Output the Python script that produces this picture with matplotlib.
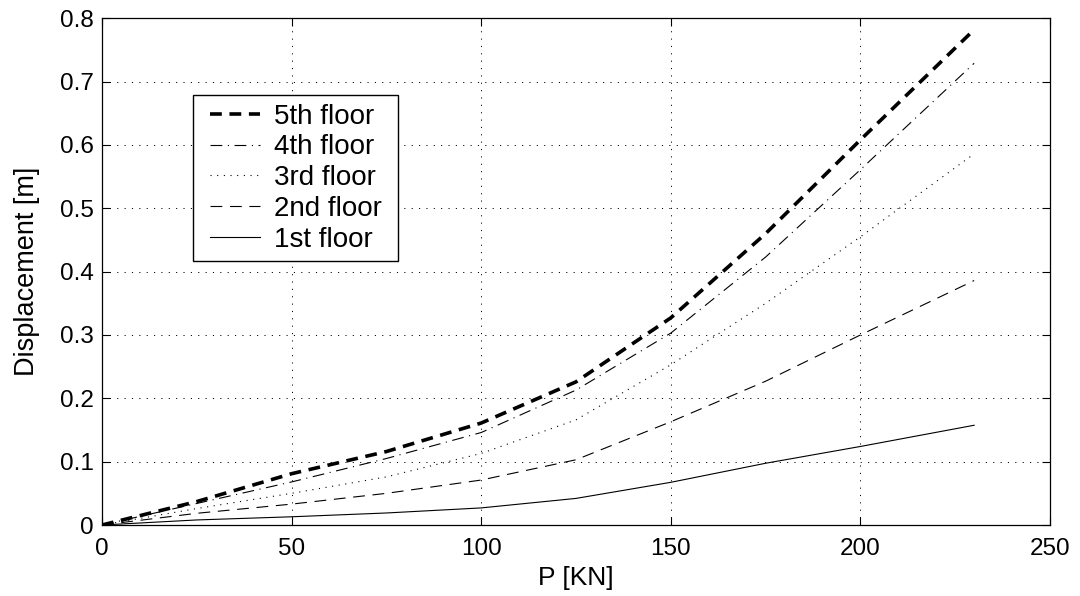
import matplotlib
matplotlib.use("Agg")
import matplotlib.pyplot as plt
from matplotlib.patches import Rectangle
from matplotlib.transforms import IdentityTransform

plt.rcParams['font.family'] = ['Liberation Sans', 'DejaVu Sans']
plt.rcParams['lines.scale_dashes'] = False

# load P [KN]
P = [0, 25, 50, 75, 100, 125, 150, 175, 200, 230]

# floor displacements [m]
floor5 = [0, 0.037, 0.081, 0.116, 0.161, 0.226, 0.327, 0.460, 0.608, 0.782]
floor4 = [0, 0.034, 0.068, 0.105, 0.146, 0.213, 0.303, 0.423, 0.561, 0.729]
floor3 = [0, 0.026, 0.050, 0.076, 0.113, 0.166, 0.253, 0.350, 0.455, 0.586]
floor2 = [0, 0.0185, 0.033, 0.050, 0.071, 0.103, 0.163, 0.227, 0.300, 0.386]
floor1 = [0, 0.008, 0.013, 0.019, 0.027, 0.042, 0.0674, 0.0975, 0.124, 0.1575]

labels = ['5th floor', '4th floor', '3rd floor', '2nd floor', '1st floor']

fig = plt.figure(figsize=(10.8, 5.96), dpi=100)
ax = fig.add_axes([0.0944, 0.1191, 0.8778, 0.8502])

ax.plot(P, floor5, color='black', lw=2.6, dashes=(8.5, 5.5), label=labels[0])
ax.plot(P, floor4, color='black', lw=0.8, dashes=(8.5, 4, 0.8, 4), label=labels[1])
ax.plot(P, floor3, color='black', lw=0.8, dashes=(0.8, 4), label=labels[2])
ax.plot(P, floor2, color='black', lw=0.8, dashes=(8.5, 5.5), label=labels[3])
ax.plot(P, floor1, color='black', lw=0.8, label=labels[4])

ax.set_xlim(0, 250)
ax.set_ylim(0, 0.8)
ax.set_xticks([0, 50, 100, 150, 200, 250])
ax.set_yticks([0, 0.1, 0.2, 0.3, 0.4, 0.5, 0.6, 0.7, 0.8])
ax.set_yticklabels(['0', '0.1', '0.2', '0.3', '0.4', '0.5', '0.6', '0.7', '0.8'])

ax.grid(True, color='black', lw=0.7, linestyle=(0, (0.8, 4.5)))
ax.tick_params(direction='in', length=6, width=0.8, top=True, right=True,
               labelsize=17.5)
ax.tick_params(axis='x', pad=9)
ax.tick_params(axis='y', pad=6)
for s in ax.spines.values():
    s.set_linewidth(0.9)

ax.set_xlabel('P [KN]', fontsize=19, labelpad=5)
ax.set_ylabel('Displacement [m]', fontsize=19.5, labelpad=14)

# legend without its own frame; a wider box is drawn round it below
leg = ax.legend(loc='upper left', bbox_to_anchor=(0.1044, 0.849), borderaxespad=0,
                frameon=False, fontsize=20,
                handlelength=1.8, labelspacing=0.17, borderpad=0.32, handletextpad=0.5)

fig.canvas.draw()
bb = leg.get_window_extent()
pad = 8
box = Rectangle((bb.x0 - pad, bb.y0), bb.width + 2 * pad, bb.height,
                transform=IdentityTransform(), facecolor='white', edgecolor='black',
                lw=1.0, zorder=4.9, clip_on=False)
ax.add_patch(box)

fig.savefig('out.png', dpi=100)
